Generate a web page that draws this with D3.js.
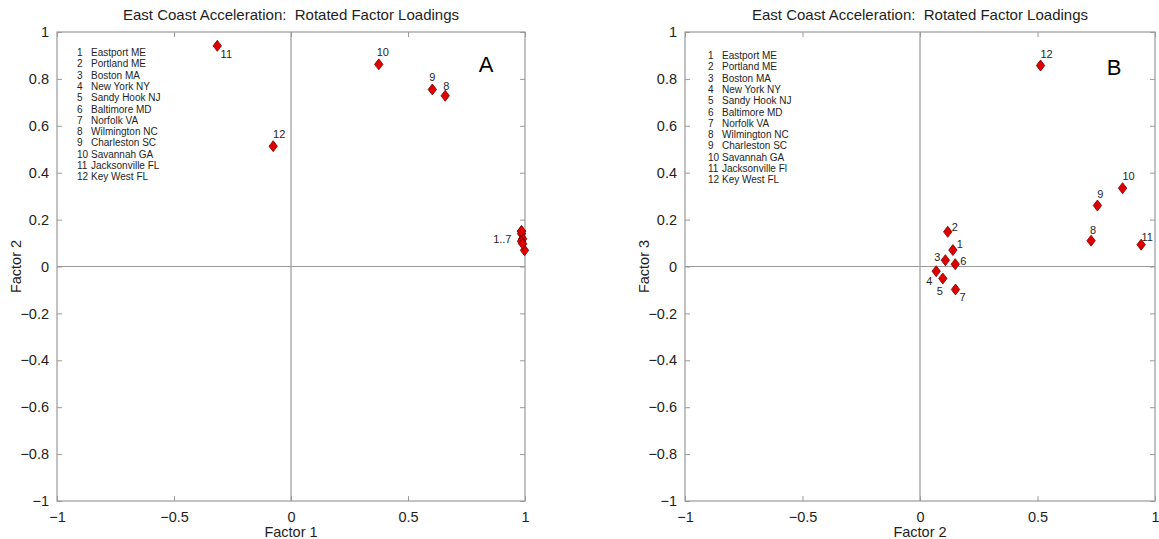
<!DOCTYPE html>
<html>
<head>
<meta charset="utf-8">
<script src="https://cdn.jsdelivr.net/npm/d3@7"></script>
<style>
  html, body { margin: 0; padding: 0; background: #fff; }
  svg { display: block; font-family: "Liberation Sans", Arial, sans-serif; }
  .title { white-space: pre; }
</style>
</head>
<body>
<svg id="chart" width="1159" height="539"></svg>
<script>
// Station list (legend order) and rotated factor loadings
const stationIds = [1, 2, 3, 4, 5, 6, 7, 8, 9, 10, 11, 12];
const stationNamesA = ["Eastport ME", "Portland ME", "Boston MA", "New York NY", "Sandy Hook NJ",
  "Baltimore MD", "Norfolk VA", "Wilmington NC", "Charleston SC", "Savannah GA",
  "Jacksonville FL", "Key West FL"];
const stationNamesB = ["Eastport ME", "Portland ME", "Boston MA", "New York NY", "Sandy Hook NJ",
  "Baltimore MD", "Norfolk VA", "Wilmington NC", "Charleston SC", "Savannah GA",
  "Jacksonville Fl", "Key West FL"];
const factor1 = [0.985, 0.99, 0.985, 0.998, 0.99, 0.985, 0.985, 0.659, 0.604, 0.375, -0.315, -0.076];
const factor2 = [0.14, 0.118, 0.108, 0.069, 0.097, 0.15, 0.151, 0.728, 0.755, 0.862, 0.941, 0.513];
const factor3 = [0.07, 0.148, 0.027, -0.02, -0.051, 0.01, -0.098, 0.11, 0.26, 0.334, 0.093, 0.857];
const xTicks = [-1, -0.5, 0, 0.5, 1];
const yTicks = [-1, -0.8, -0.6, -0.4, -0.2, 0, 0.2, 0.4, 0.6, 0.8, 1];
const chartTitle = "East Coast Acceleration:  Rotated Factor Loadings";

const svg = d3.select("#chart");
const frameColor = "#9a9a9a";
const textColor = "#1e1e1e";
const markerFill = "#e00000";
const markerStroke = "#7a0000";

// label placement relative to each marker (dx, dy)
const labelsA = {
  8: [1, -10], 9: [0, -12], 10: [4, -12], 11: [9, 8], 12: [6, -12]
};
const labelsB = {
  1: [7, -6], 2: [7, -5], 3: [-8, -3], 4: [-7, 10], 5: [-3, 13], 6: [8, -3], 7: [7, 8],
  8: [2, -11], 9: [3, -12], 10: [6, -12], 11: [6, -8], 12: [6, -12]
};

function drawPanel(cfg) {
  const g = svg.append("g");
  const x = d3.scaleLinear().domain([-1, 1]).range([cfg.left, cfg.right]);
  const y = d3.scaleLinear().domain([-1, 1]).range([cfg.bottom, cfg.top]);

  // plot frame
  g.append("rect")
    .attr("x", cfg.left).attr("y", cfg.top)
    .attr("width", cfg.right - cfg.left).attr("height", cfg.bottom - cfg.top)
    .attr("fill", "none").attr("stroke", frameColor).attr("stroke-width", 1.2);

  // zero lines
  g.append("line").attr("x1", x(0)).attr("x2", x(0)).attr("y1", cfg.top).attr("y2", cfg.bottom)
    .attr("stroke", frameColor).attr("stroke-width", 1.2);
  g.append("line").attr("x1", cfg.left).attr("x2", cfg.right).attr("y1", y(0)).attr("y2", y(0))
    .attr("stroke", frameColor).attr("stroke-width", 1.2);

  // axes with inward ticks
  const tickFmt = d3.format("");
  const axB = g.append("g").attr("transform", `translate(0,${cfg.bottom})`)
    .call(d3.axisBottom(x).tickValues(xTicks).tickSizeInner(-5).tickSizeOuter(0).tickPadding(8).tickFormat(tickFmt));
  const axT = g.append("g").attr("transform", `translate(0,${cfg.top})`)
    .call(d3.axisTop(x).tickValues(xTicks).tickSizeInner(-5).tickSizeOuter(0).tickFormat(""));
  const axL = g.append("g").attr("transform", `translate(${cfg.left},0)`)
    .call(d3.axisLeft(y).tickValues(yTicks).tickSizeInner(-5).tickSizeOuter(0).tickPadding(8).tickFormat(tickFmt));
  const axR = g.append("g").attr("transform", `translate(${cfg.right},0)`)
    .call(d3.axisRight(y).tickValues(yTicks).tickSizeInner(-5).tickSizeOuter(0).tickFormat(""));
  [axB, axT, axL, axR].forEach(a => {
    a.select(".domain").remove();
    a.selectAll("line").attr("stroke", frameColor).attr("stroke-width", 1);
    a.selectAll("text").attr("fill", textColor).style("font-size", "14.5px")
      .style("font-family", "'Liberation Sans', Arial, sans-serif");
  });
  axB.selectAll("text").attr("dy", "0.9em");

  // title and axis labels
  g.append("text").attr("class", "title").attr("x", x(0)).attr("y", 20).attr("text-anchor", "middle")
    .attr("fill", textColor).style("font-size", "15px").text(chartTitle);
  g.append("text").attr("x", x(0)).attr("y", 537).attr("text-anchor", "middle")
    .attr("fill", textColor).style("font-size", "14.5px").text(cfg.xLabel);
  g.append("text").attr("transform", `translate(${cfg.left - 36},${y(0)}) rotate(-90)`)
    .attr("text-anchor", "middle").attr("fill", textColor).style("font-size", "14.5px").text(cfg.yLabel);

  // panel letter
  g.append("text").attr("x", cfg.letterX).attr("y", cfg.letterY).attr("text-anchor", "middle")
    .attr("fill", "#000").style("font-size", "22px").text(cfg.letter);

  // station legend
  const leg = g.append("g");
  stationIds.forEach((id, i) => {
    const ly = cfg.legendY + i * 11.3;
    leg.append("text").attr("x", cfg.legendX).attr("y", ly).attr("fill", textColor)
      .style("font-size", "10px").text(id);
    leg.append("text").attr("x", cfg.legendX + 14).attr("y", ly).attr("fill", textColor)
      .style("font-size", "10px").text(cfg.names[i]);
  });

  // diamond markers
  const pts = stationIds.map((id, i) => ({ id, vx: cfg.xs[i], vy: cfg.ys[i] }));
  const diamond = "M0,-5.5L4.2,0L0,5.5L-4.2,0Z";
  g.selectAll("path.pt").data(pts).enter().append("path")
    .attr("class", "pt")
    .attr("d", diamond)
    .attr("transform", d => `translate(${x(d.vx)},${y(d.vy)})`)
    .attr("fill", markerFill).attr("stroke", markerStroke).attr("stroke-width", 0.8);

  // point labels
  g.selectAll("text.pl").data(pts.filter(d => cfg.labels[d.id])).enter().append("text")
    .attr("class", "pl")
    .attr("x", d => x(d.vx) + cfg.labels[d.id][0])
    .attr("y", d => y(d.vy) + cfg.labels[d.id][1])
    .attr("text-anchor", "middle").attr("dominant-baseline", "central")
    .attr("fill", textColor).style("font-size", "11px").text(d => d.id);

  if (cfg.groupLabel) {
    const grp = pts.filter(d => d.id <= 7);
    const gx = d3.min(grp, d => x(d.vx));
    const gy = d3.mean(grp, d => y(d.vy));
    g.append("text").attr("x", gx - 10).attr("y", gy).attr("text-anchor", "end")
      .attr("dominant-baseline", "central").attr("fill", textColor)
      .style("font-size", "11px").text(cfg.groupLabel);
  }
}

drawPanel({
  left: 57, right: 525, top: 32, bottom: 501,
  xs: factor1, ys: factor2, xLabel: "Factor 1", yLabel: "Factor 2",
  names: stationNamesA, legendX: 77, legendY: 56,
  labels: labelsA, groupLabel: "1..7",
  letter: "A", letterX: 486, letterY: 72
});
drawPanel({
  left: 685, right: 1155, top: 32, bottom: 501,
  xs: factor2, ys: factor3, xLabel: "Factor 2", yLabel: "Factor 3",
  names: stationNamesB, legendX: 708, legendY: 59,
  labels: labelsB, groupLabel: null,
  letter: "B", letterX: 1114, letterY: 75
});
</script>
</body>
</html>
